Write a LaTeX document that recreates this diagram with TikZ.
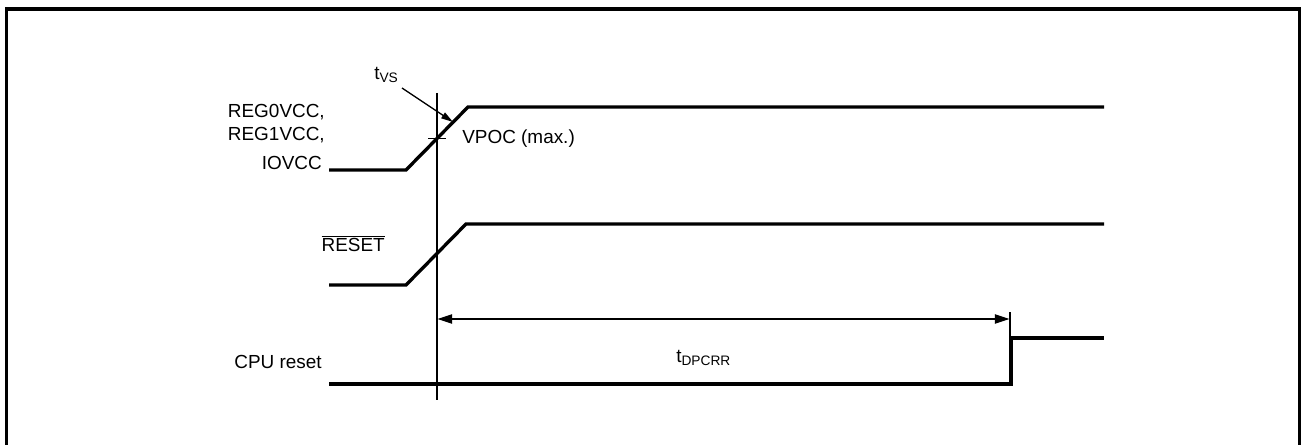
\documentclass[tikz,border=0pt]{standalone}
\usepackage{fontspec}
\setmainfont{Liberation Sans}
\usetikzlibrary{arrows.meta}
\begin{document}
\begin{tikzpicture}[x=0.75pt,y=-0.75pt,
  sig/.style={line width=2.5pt,line join=miter},
  thin/.style={line width=1pt},
  lbl/.style={inner sep=0pt,font=\fontsize{14.2}{16}\selectfont},
  dim/.style={thin,{Triangle[length=11pt,width=7pt]}-{Triangle[length=11pt,width=7pt]}}]
\useasboundingbox (0,0) rectangle (1301,445);
% frame
\draw[line width=2.5pt] (6.5,460) -- (6.5,9) -- (1299.5,9) -- (1299.5,460);
% signal 1
\coordinate (a0) at (329,170);
\coordinate (a1) at (406,170);
\coordinate (a2) at (468,107);
\coordinate (a3) at (1104,107);
\draw[sig] (a0) -- (a1) -- (a2) -- (a3);
% signal 2
\coordinate (b0) at (329,285);
\coordinate (b1) at (406,285);
\coordinate (b2) at (466,224);
\coordinate (b3) at (1104,224);
\draw[sig] (b0) -- (b1) -- (b2) -- (b3);
% signal 3
\coordinate (c0) at (329,384);
\coordinate (c1) at (1011,384);
\coordinate (c2) at (1011,338);
\coordinate (c3) at (1104,338);
\draw[sig] (c0) -- (c1) -- (c2) -- (c3);
% vertical reference lines
\coordinate (v0) at (437,93);
\coordinate (v1) at (437,400);
\draw[thin] (v0) -- (v1);
\coordinate (w0) at (1010,312);
\coordinate (w1) at (1010,338);
\draw[thin] (w0) -- (w1);
% tick
\coordinate (k0) at (428,138.5);
\coordinate (k1) at (446,138.5);
\draw[thin] (k0) -- (k1);
% dimension arrow
\coordinate (d0) at (437.5,319);
\coordinate (d1) at (1009.5,319);
\draw[dim] (d0) -- (d1);
% labels
\node[lbl,anchor=east] (l1) at (325,112) {REG0VCC,};
\node[lbl,anchor=east] (l2) at (325,135) {REG1VCC,};
\node[lbl,anchor=east] (l3) at (322,163) {IOVCC};
\node[lbl,anchor=east] (l4) at (385,244) {$\overline{\mbox{RESET}}$};
\node[lbl,anchor=east] (l5) at (322,362) {CPU reset};
\node[lbl,anchor=west] (vpoc) at (462,139) {VPOC (max.)};
\node[lbl,anchor=west] (tvs) at (374,75) {t\textsubscript{\fontsize{10.3}{12}\selectfont VS}};
\node[lbl,anchor=west] (tdp) at (676,358) {t\textsubscript{\fontsize{10.3}{12}\selectfont DPCRR}};
\coordinate (p0) at (402,88);
\coordinate (p1) at (453,122);
\draw[thin,-{Triangle[length=9pt,width=5pt]}] (p0) -- (p1);
\end{tikzpicture}
\end{document}
